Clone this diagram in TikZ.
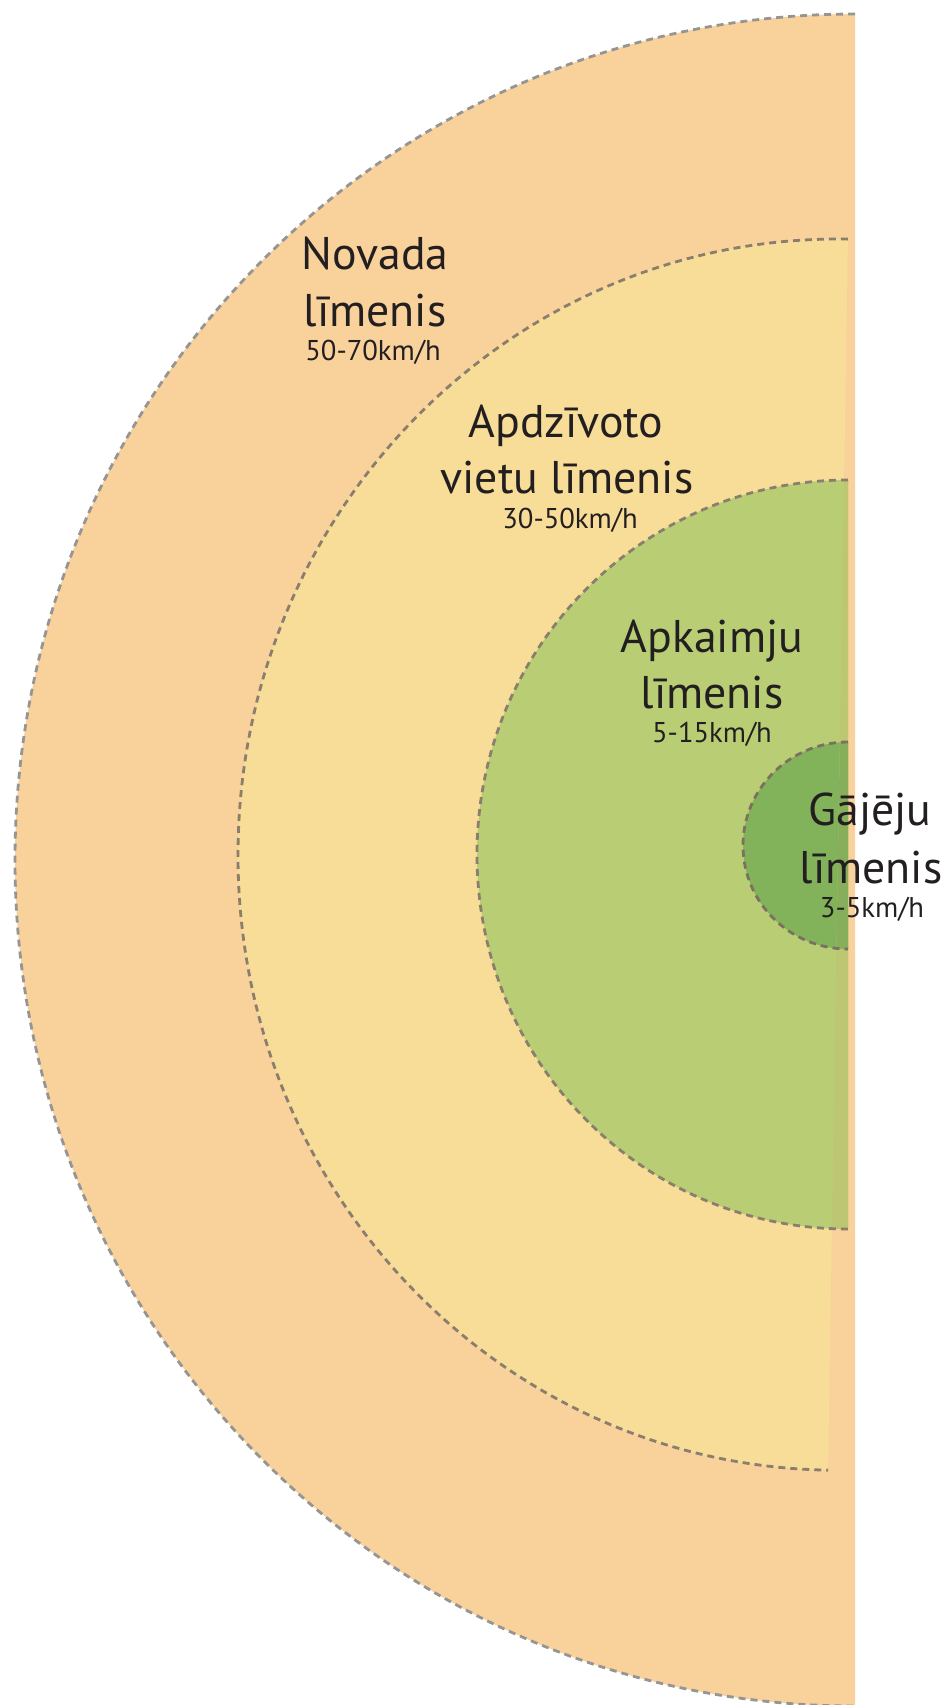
\documentclass[tikz,border=0pt]{standalone}
\usepackage{fontspec}
\setmainfont{PT Sans}
\definecolor{novada}{HTML}{F8D19B}
\definecolor{ciems}{HTML}{F8DD98}
\definecolor{apkaime}{HTML}{B9CE74}
\definecolor{apkaimemala}{HTML}{BCC673}
\definecolor{gajeji}{HTML}{82B25A}
\definecolor{gajejimala}{HTML}{87AE5A}
\definecolor{teksts}{HTML}{231F20}
\definecolor{rimgray}{HTML}{959595}
\definecolor{rimbrown}{HTML}{8A7E6C}
\begin{document}
\begin{tikzpicture}[x=0.5pt, y=-0.5pt,
    rim/.style={line width=1.4pt, dash pattern=on 3.5pt off 2.5pt},
    big/.style={anchor=base, text=teksts, inner sep=0pt, font=\fontsize{22.9}{22.9}\selectfont},
    small/.style={anchor=base, text=teksts, inner sep=0pt, font=\fontsize{14.3}{14.3}\selectfont}]

    \useasboundingbox (0,0) rectangle (947,1705);

    % novada limenis
    \fill[novada] (855,14) arc[start angle=270, end angle=90, x radius=840, y radius=846] -- cycle;
    \draw[rim, rimgray] (855,14) arc[start angle=270, end angle=90, x radius=840, y radius=846];

    % apdzivoto vietu limenis
    \begin{scope}[rotate around={-0.93:(838,854.5)}]
        \fill[ciems] (838,239) arc[start angle=270, end angle=90, x radius=600, y radius=615.6] -- cycle;
        \draw[rim, rimbrown] (838,239) arc[start angle=270, end angle=90, x radius=600, y radius=615.6];
    \end{scope}

    % apkaimju limenis
    \fill[apkaime] (848,480) arc[start angle=270, end angle=90, x radius=371, y radius=374.5] -- cycle;

    % gajeju limenis
    \fill[gajeji] (848,742) arc[start angle=270, end angle=90, x radius=105, y radius=103.5] -- cycle;

    % thin strip where the green lies over the outer band
    \begin{scope}
        \clip (851.9,0) -- (824.2,1705) -- (947,1705) -- (947,0) -- cycle;
        \fill[apkaimemala] (848,480) arc[start angle=270, end angle=90, x radius=371, y radius=374.5] -- cycle;
        \fill[gajejimala] (848,742) arc[start angle=270, end angle=90, x radius=105, y radius=103.5] -- cycle;
    \end{scope}

    \draw[rim, rimbrown] (848,480) arc[start angle=270, end angle=90, x radius=371, y radius=374.5];
    \draw[rim, rimbrown!90!black] (848,742) arc[start angle=270, end angle=90, x radius=105, y radius=103.5];

    % labels
    \node[big] (novada1) at (375,269) {Novada};
    \node[big] (novada2) at (375,326) {līmenis};
    \node[small] (novada3) at (373,360) {50-70km/h};

    \node[big] (ciems1) at (566,437) {Apdzīvoto};
    \node[big] (ciems2) at (567,493) {vietu līmenis};
    \node[small] (ciems3) at (570,528) {30-50km/h};

    \node[big] (apk1) at (712,652) {Apkaimju};
    \node[big] (apk2) at (712,708) {līmenis};
    \node[small] (apk3) at (712,742) {5-15km/h};

    \node[big] (gaj1) at (870,825) {Gājēju};
    \node[big] (gaj2) at (871,883) {līmenis};
    \node[small] (gaj3) at (872,917) {3-5km/h};

\end{tikzpicture}
\end{document}
